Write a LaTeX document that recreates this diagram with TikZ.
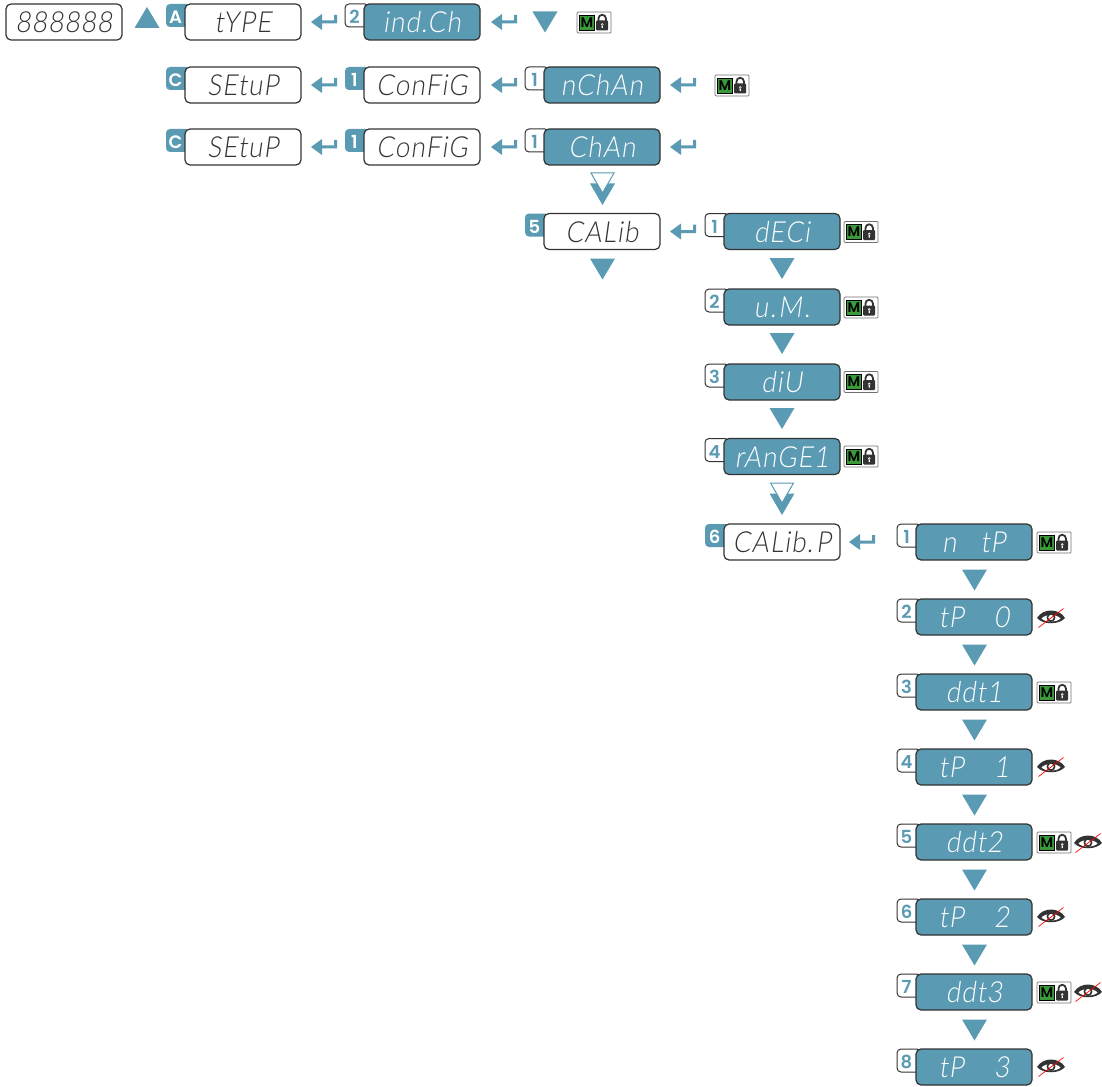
\documentclass[tikz,border=0pt]{standalone}
\usepackage{fontspec}
\usepackage{tikz}
\newfontfamily\lcdfont[FakeSlant=0.14,FakeStretch=0.9,LetterSpace=4]{Lato Light}
\newfontfamily\tabfont{Poppins SemiBold}
\definecolor{panelblue}{HTML}{5A9AB3}
\definecolor{edgegray}{HTML}{333333}
\definecolor{lockgreen}{HTML}{3A9A3A}
\tikzset{
  display/.style={draw=edgegray, line width=1.2pt, rounded corners=5pt, minimum width=116pt, minimum height=36pt,
    inner sep=0pt, text height=21pt, text depth=0pt, font=\lcdfont\fontsize{29}{29}\selectfont},
  displaywhite/.style={display, fill=white, text=edgegray},
  displayblue/.style={display, fill=panelblue, text=white},
  tab/.style={rounded corners=4pt, minimum width=24pt, minimum height=23pt, inner sep=0pt, text height=16pt, text depth=0pt,
    font=\tabfont\fontsize{18}{18}\selectfont},
  tabblue/.style={tab, fill=panelblue, text=white},
  tabwhite/.style={tab, draw=edgegray, line width=1pt, fill=white, text=panelblue},
  pics/tridown/.style={code={\fill[panelblue] (-12.5,-10.5) -- (12.5,-10.5) -- (0,10.5) -- cycle;}},
  pics/triup/.style={code={\fill[panelblue] (-12.5,10.5) -- (12.5,10.5) -- (0,-10.5) -- cycle;}},
  pics/tridouble/.style={code={
    \fill[panelblue] (-12.5,-5.5) -- (12.5,-5.5) -- (0,16) -- cycle;
    \draw[panelblue, fill=white, line width=1pt] (-11.5,-16) -- (11.5,-16) -- (0,4) -- cycle;}},
  pics/enter/.style={code={
    \fill[panelblue] (0,0) -- (11,-8) -- (11,-1.5) -- (23,-1.5) -- (23,-7) -- (26,-7) -- (26,1.5) -- (11,1.5) -- (11,8) -- cycle;}},
  pics/lockicon/.style={code={
    \draw[edgegray!70, fill=white, rounded corners=1pt, line width=0.7pt] (-17,-10.5) rectangle (17,10.5);
    \node[draw=black, line width=0.8pt, fill=lockgreen, minimum width=15.5pt, minimum height=15pt, inner sep=0pt,
      font=\tabfont\fontsize{14}{14}\selectfont] (-m) at (-7,0) {M};
    \draw[edgegray, line width=1.8pt] (4.5,0) -- (4.5,-4) arc (180:360:3.7) -- (11.9,0);
    \fill[edgegray, rounded corners=1pt] (2.2,-2) rectangle (14.2,8);
    \fill[white] (8.2,2) circle (1.4) (7.6,2) rectangle (8.8,5.5);}},
  pics/eyeoff/.style={code={
    \fill[edgegray] (-14,0) .. controls (-8,-10) and (8,-10) .. (14,0) .. controls (8,7) and (-8,7) .. (-14,0) -- cycle;
    \fill[white] (-9.5,0.5) .. controls (-6,-4) and (6,-4) .. (9.5,0.5) .. controls (6,4.5) and (-6,4.5) .. (-9.5,0.5) -- cycle;
    \draw[edgegray, line width=1.6pt] (0,-0.5) circle (3.6);
    \draw[red, line width=0.7pt] (-12.5,9.5) -- (12.5,-9.5);}}
}
\begin{document}
\begin{tikzpicture}[x=1pt, y=-1pt]
  \useasboundingbox (0,0) rectangle (1102,1086);

  \node[displaywhite] (ref) at (64,22) {888888};
  \pic at (147,17.5) {triup};

  \foreach \name/\xx/\yy/\txt/\num in {typ/243/22/tYPE/A, setupa/243/85/SEtuP/C, setupb/243/147/SEtuP/C,
    confa/422/85/ConFiG/1, confb/422/147/ConFiG/1, calib/602/231.5/CALib/5, calibp/782/542/CALib.\hspace{3pt}P/6}
  {
    \node[tabblue] (tab\name) at (\xx-65,\yy-6.5) {\hspace{-5pt}\num};
    \node[displaywhite] (\name) at (\xx,\yy) {\txt};
  }

  \foreach \name/\xx/\yy/\txt/\num in {indch/422/22/ind.Ch/2, nchan/602/85/nChAn/1, chan/602/147/ChAn/1,
    deci/782/231.5/dECi/1, um/782/307/u\hspace{2pt}.\hspace{2pt}M\hspace{2pt}./2, div/782/382/diU/3, range/782/456.5/rAnGE1/4,
    ntp/974/542/n\hspace{24pt}tP/1, tpz/974/617/tP\hspace{30pt}0/2, ddta/974/692/ddt1/3, tpa/974/767/tP\hspace{30pt}1/4,
    ddtb/974/842/ddt2/5, tpb/974/917/tP\hspace{30pt}2/6, ddtc/974/992/ddt3/7, tpc/974/1067/tP\hspace{30pt}3/8}
  {
    \node[tabwhite] (tab\name) at (\xx-65,\yy-6.5) {\hspace{-5pt}\num};
    \node[displayblue] (\name) at (\xx,\yy) {\txt};
  }

  \foreach \xx/\yy in {311/22, 491/22, 311/85, 491/85, 670/85, 311/147, 491/147, 670/147, 670/231.5, 849/542}
    \pic at (\xx,\yy) {enter};

  \foreach \xx/\yy in {545/22, 602.5/269, 782/268.5, 782/343.5, 782/418.5, 974.5/580, 974.5/655, 974.5/730,
    974.5/805, 974.5/880, 974.5/955, 974.5/1030}
    \pic at (\xx,\yy) {tridown};

  \pic at (602.5,189) {tridouble};
  \pic at (782,499) {tridouble};

  \foreach \name/\xx/\yy in {la/594/22.5, lb/732/85.5, lc/861/232, ld/861/307.5, le/861/382, lf/861/456.5,
    lg/1054/542.5, lh/1054/692.5, li/1054/842.5, lj/1054/992.5}
    \pic (\name) at (\xx,\yy) {lockicon};

  \foreach \xx/\yy in {1051/618, 1051/767, 1088/843, 1051/917, 1088/992, 1051/1067}
    \pic at (\xx,\yy) {eyeoff};
\end{tikzpicture}
\end{document}
